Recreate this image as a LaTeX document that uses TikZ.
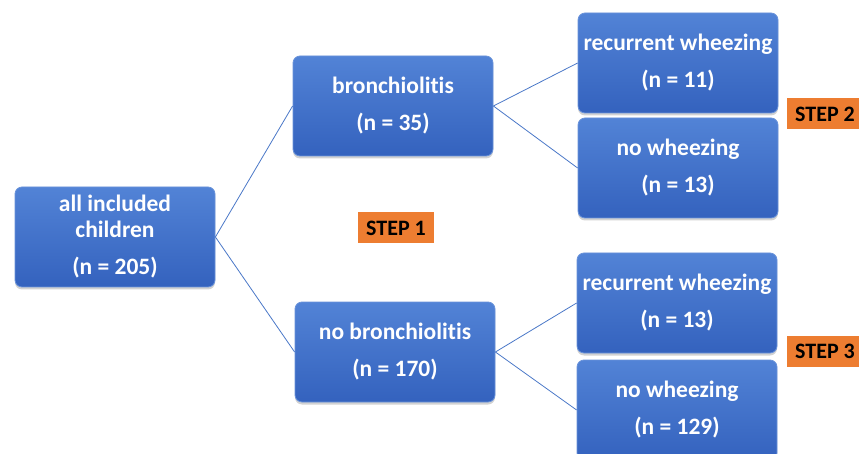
\documentclass[tikz,border=0pt]{standalone}
\usepackage{fontspec}
\setmainfont{Carlito}[Ligatures=NoCommon]
\usetikzlibrary{shadows}

\definecolor{boxtop}{HTML}{5283D6}
\definecolor{boxbot}{HTML}{3462BE}
\definecolor{boxedge}{HTML}{6A93DA}
\definecolor{linkblue}{HTML}{4A78C8}
\definecolor{steporange}{HTML}{ED7D31}

\tikzset{
  groupbox/.style={rectangle, rounded corners=7pt, minimum width=200pt,
    minimum height=100pt, inner sep=0pt, top color=boxtop, bottom color=boxbot,
    draw=boxedge, line width=0.8pt, text=white, align=center,
    font=\fontsize{23.5}{26}\selectfont\bfseries,
    drop shadow={opacity=0.35, shadow xshift=0pt, shadow yshift=-2.5pt}},
  steplabel/.style={rectangle, fill=steporange, inner xsep=8pt, inner ysep=3pt,
    minimum height=31pt, text=black, font=\fontsize{22}{24}\selectfont\bfseries},
  link/.style={draw=linkblue, line width=0.8pt}
}

\begin{document}
\begin{tikzpicture}[x=1pt,y=-1pt]
  \clip (0,0) rectangle (859,454);
  \fill[white] (0,0) rectangle (859,454);

  % first split
  \node[groupbox] (all) at (115,237) {all included\\children\\[11pt](n = 205)};
  \node[groupbox] (bron) at (393,106) {bronchiolitis\\[11pt](n = 35)};
  \node[groupbox] (nobron) at (395,352) {no bronchiolitis\\[11pt](n = 170)};

  % second split
  \node[groupbox] (bronrw) at (678,63) {recurrent wheezing\\[11pt](n = 11)};
  \node[groupbox] (bronnw) at (678,168) {no wheezing\\[11pt](n = 13)};
  \node[groupbox] (nobronrw) at (677,303) {recurrent wheezing\\[11pt](n = 13)};
  \node[groupbox] (nobronnw) at (677,410) {no wheezing\\[11pt](n = 129)};

  % steps
  \node[steplabel] (stepone) at (396,228) {STEP 1};
  \node[steplabel, anchor=west] (steptwo) at (787,114) {STEP 2};
  \node[steplabel, anchor=west] (stepthree) at (787,351) {STEP 3};

  \draw[link] (all.east) -- (bron.west);
  \draw[link] (all.east) -- (nobron.west);
  \draw[link] (bron.east) -- (bronrw.west);
  \draw[link] (bron.east) -- (bronnw.west);
  \draw[link] (nobron.east) -- (nobronrw.west);
  \draw[link] (nobron.east) -- (nobronnw.west);
\end{tikzpicture}
\end{document}
